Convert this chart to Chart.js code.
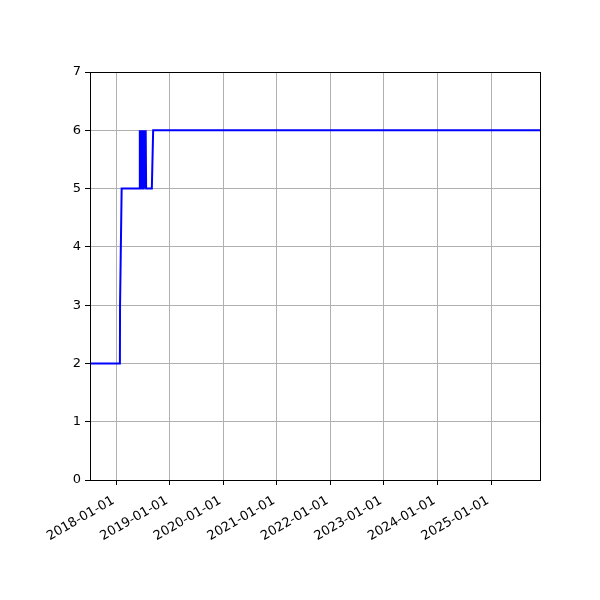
<!DOCTYPE html>
<html>
<head>
<meta charset="utf-8">
<script src="https://cdn.jsdelivr.net/npm/chart.js@4/dist/chart.umd.min.js"></script>
<style>
  html, body { margin: 0; padding: 0; background: #fff; }
  #chart { display: block; }
</style>
</head>
<body>
<canvas id="chart" width="600" height="600"></canvas>
<script>
// data
const dates = [
  '2017-07-05', '2018-01-25', '2018-01-26', '2018-02-06', '2018-06-07',
  '2018-06-09', '2018-06-11', '2018-06-13', '2018-06-15', '2018-06-17',
  '2018-06-19', '2018-06-21', '2018-06-23', '2018-06-25', '2018-06-27',
  '2018-06-29', '2018-07-01', '2018-07-03', '2018-07-05', '2018-07-07',
  '2018-07-09', '2018-07-11', '2018-07-13', '2018-07-15', '2018-07-17',
  '2018-07-19', '2018-07-21', '2018-07-23', '2018-08-31', '2018-09-09',
  '2025-12-01'
];
const values = [
  2, 2, 3, 5, 5,
  6, 5, 6, 5, 6,
  5, 6, 5, 6, 6,
  5, 6, 5, 6, 5,
  6, 5, 6, 5, 6,
  5, 6, 5, 5, 6,
  6
];
const xLimits = ['2017-07-05', '2025-12-01'];
const tickYears = [2018, 2019, 2020, 2021, 2022, 2023, 2024, 2025];
const yTicks = [0, 1, 2, 3, 4, 5, 6, 7];

const points = dates.map((d, i) => ({ x: Date.parse(d + 'T00:00:00Z'), y: values[i] }));

function fmtDate(ms) {
  const d = new Date(ms);
  const mm = String(d.getUTCMonth() + 1).padStart(2, '0');
  const dd = String(d.getUTCDate()).padStart(2, '0');
  return d.getUTCFullYear() + '-' + mm + '-' + dd;
}

// box around the plot area like matplotlib's frame
const frame = {
  id: 'frame',
  afterDraw(chart) {
    const a = chart.chartArea;
    const ctx = chart.ctx;
    ctx.save();
    ctx.strokeStyle = '#000';
    ctx.lineWidth = 1;
    ctx.strokeRect(Math.round(a.left) + 0.5, Math.round(a.top) + 0.5,
      Math.round(a.right - a.left), Math.round(a.bottom - a.top));
    ctx.restore();
  }
};

const font = { family: 'DejaVu Sans', size: 13 };

new Chart(document.getElementById('chart').getContext('2d'), {
  type: 'line',
  data: {
    datasets: [{
      data: points,
      borderColor: 'blue',
      borderWidth: 2,
      pointRadius: 0,
      tension: 0,
      fill: false
    }]
  },
  options: {
    responsive: false,
    animation: false,
    devicePixelRatio: 1,
    layout: { padding: { top: 72, right: 60, left: 0, bottom: 0 } },
    plugins: { legend: { display: false }, tooltip: { enabled: false } },
    scales: {
      x: {
        type: 'linear',
        min: Date.parse(xLimits[0] + 'T00:00:00Z'),
        max: Date.parse(xLimits[1] + 'T00:00:00Z'),
        afterBuildTicks(scale) {
          scale.ticks = tickYears.map(y => ({ value: Date.UTC(y, 0, 1) }));
        },
        afterFit(scale) { scale.height = 120; },
        ticks: {
          callback: v => fmtDate(v),
          minRotation: 30,
          maxRotation: 30,
          color: '#000',
          font: font,
          padding: 8,
          labelOffset: -3,
          autoSkip: false
        },
        grid: { color: '#b0b0b0', lineWidth: 1, tickColor: '#000', tickLength: 5 },
        border: { color: '#000', width: 1 }
      },
      y: {
        min: 0,
        max: 7,
        afterBuildTicks(scale) {
          scale.ticks = yTicks.map(v => ({ value: v }));
        },
        afterFit(scale) { scale.width = 90; },
        ticks: { color: '#000', font: font, padding: 4 },
        grid: { color: '#b0b0b0', lineWidth: 1, tickColor: '#000', tickLength: 5 },
        border: { color: '#000', width: 1 }
      }
    }
  },
  plugins: [frame]
});
</script>
</body>
</html>
